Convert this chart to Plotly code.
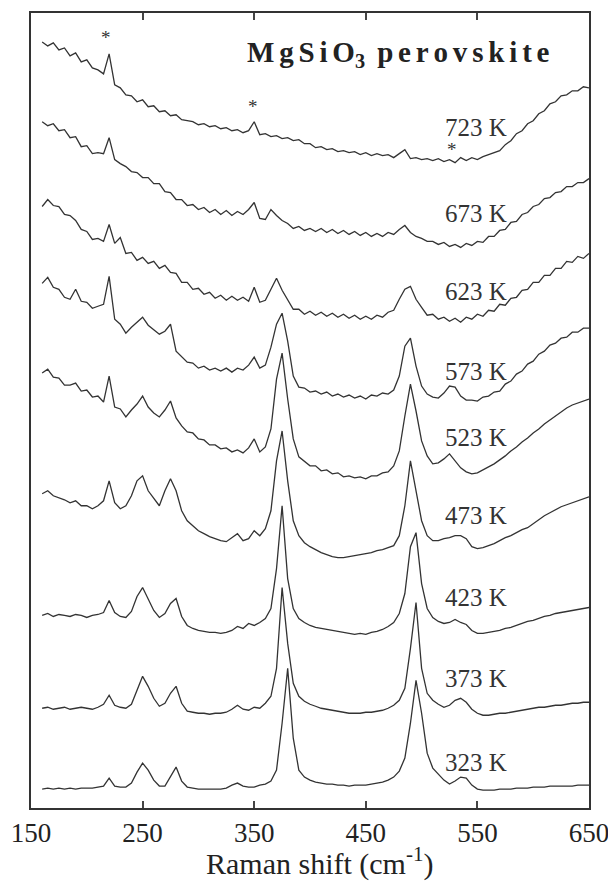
import plotly.graph_objects as go

# Raman shift grid (cm^-1)
wavenumber = list(range(160, 651, 5))

temperatures = ["323 K", "373 K", "423 K", "473 K", "523 K", "573 K", "623 K", "673 K", "723 K"]

# Offset intensities (arb. units), one list per temperature
I_323 = [19, 20, 19, 20, 19, 20, 19, 20, 20, 20, 21, 22, 30, 22, 21, 21, 25, 36, 45, 38,
         28, 22, 22, 32, 41, 27, 21, 20, 19, 19, 19, 19, 19, 20, 23, 25, 22, 21, 21, 23,
         24, 27, 38, 85, 140, 70, 38, 31, 28, 26, 25, 24, 24, 23, 23, 22, 23, 23, 23, 24,
         25, 26, 28, 31, 37, 50, 85, 128, 95, 55, 40, 34, 28, 24, 27, 31, 30, 23, 19, 18,
         18, 18, 19, 19, 19, 20, 20, 20, 21, 21, 21, 22, 22, 22, 22, 22, 23, 23, 23]
I_373 = [100, 101, 99, 100, 101, 99, 100, 101, 100, 99, 101, 104, 113, 103, 101, 100, 104, 118, 132, 122,
         110, 102, 105, 115, 122, 105, 97, 96, 95, 95, 94, 95, 95, 96, 99, 103, 99, 98, 101, 100,
         105, 112, 140, 221, 165, 125, 112, 107, 104, 102, 100, 99, 98, 97, 96, 95, 95, 95, 96, 96,
         97, 98, 100, 103, 108, 120, 160, 206, 140, 115, 108, 104, 101, 103, 108, 110, 106, 99, 95, 93,
         93, 94, 95, 95, 96, 97, 98, 99, 100, 101, 101, 102, 103, 103, 104, 105, 105, 106, 106]
I_423 = [193, 195, 192, 194, 193, 192, 194, 193, 191, 193, 194, 196, 208, 196, 192, 191, 197, 212, 221, 210,
         198, 191, 195, 205, 210, 192, 183, 180, 178, 177, 176, 176, 175, 176, 178, 182, 180, 185, 183, 186,
         190, 200, 240, 303, 230, 200, 190, 186, 183, 181, 180, 179, 178, 177, 176, 175, 174, 175, 174, 176,
         177, 179, 182, 186, 195, 215, 262, 276, 225, 200, 191, 187, 185, 186, 189, 186, 184, 178, 175, 175,
         176, 177, 178, 180, 181, 183, 185, 187, 188, 190, 192, 193, 195, 196, 197, 198, 199, 200, 201]
I_473 = [315, 318, 313, 311, 309, 306, 308, 303, 303, 300, 303, 308, 328, 306, 300, 303, 313, 328, 333, 318,
         310, 303, 318, 330, 318, 298, 288, 283, 278, 275, 272, 270, 268, 267, 271, 275, 268, 270, 278, 273,
         280, 298, 348, 378, 328, 288, 273, 266, 262, 259, 256, 254, 252, 251, 251, 252, 253, 254, 255, 256,
         258, 259, 261, 263, 273, 303, 348, 318, 288, 273, 268, 268, 270, 271, 273, 273, 270, 262, 260, 261,
         263, 265, 268, 271, 273, 276, 279, 281, 285, 289, 293, 296, 299, 302, 304, 306, 308, 310, 312]
I_523 = [436, 440, 432, 431, 424, 424, 426, 418, 419, 412, 413, 407, 433, 402, 400, 392, 399, 405, 413, 402,
         396, 392, 399, 408, 391, 383, 377, 376, 370, 369, 364, 364, 360, 361, 357, 359, 356, 361, 370, 357,
         362, 380, 430, 456, 410, 370, 352, 347, 343, 343, 338, 339, 335, 336, 332, 333, 331, 332, 330, 333,
         333, 336, 337, 343, 358, 393, 425, 398, 368, 353, 345, 346, 350, 355, 348, 341, 337, 335, 336, 339,
         342, 345, 349, 353, 358, 362, 367, 371, 376, 380, 385, 389, 393, 397, 401, 404, 406, 408, 410]
I_573 = [526, 532, 522, 520, 512, 510, 520, 508, 507, 501, 503, 505, 533, 490, 485, 476, 482, 487, 492, 484,
         479, 475, 478, 485, 458, 453, 447, 446, 441, 443, 439, 441, 438, 441, 437, 441, 439, 444, 452, 441,
         444, 462, 485, 496, 468, 433, 422, 421, 417, 418, 415, 417, 413, 415, 412, 414, 411, 413, 410, 414,
         413, 416, 415, 419, 433, 463, 471, 443, 423, 415, 412, 411, 416, 423, 422, 413, 409, 409, 408, 412,
         413, 417, 418, 425, 428, 435, 438, 445, 448, 455, 458, 464, 466, 471, 472, 477, 477, 481, 481]
I_623 = [603, 610, 604, 603, 595, 594, 589, 580, 578, 570, 571, 568, 585, 566, 572, 556, 557, 549, 552, 546,
         548, 541, 544, 537, 536, 527, 527, 520, 521, 515, 517, 511, 514, 509, 513, 509, 512, 508, 522, 507,
         509, 520, 531, 519, 509, 500, 500, 495, 498, 494, 497, 493, 496, 492, 495, 491, 494, 490, 493, 490,
         494, 492, 497, 499, 510, 520, 523, 510, 502, 494, 495, 490, 492, 488, 491, 487, 492, 490, 495, 493,
         499, 498, 505, 504, 511, 512, 519, 520, 527, 527, 534, 534, 541, 541, 548, 547, 553, 551, 556]
I_673 = [688, 684, 686, 679, 680, 672, 673, 663, 664, 656, 657, 656, 672, 650, 646, 643, 638, 637, 632, 632,
         626, 626, 618, 617, 610, 610, 604, 605, 600, 602, 597, 600, 595, 599, 594, 598, 595, 600, 607, 591,
         590, 600, 594, 589, 586, 581, 583, 579, 581, 578, 581, 577, 580, 576, 579, 575, 578, 574, 577, 573,
         576, 573, 577, 575, 580, 584, 577, 573, 571, 568, 568, 565, 567, 563, 565, 562, 566, 564, 568, 567,
         573, 573, 579, 580, 587, 588, 595, 597, 603, 605, 611, 612, 617, 618, 623, 623, 627, 627, 631]
I_723 = [768, 764, 767, 760, 762, 754, 757, 748, 750, 742, 740, 736, 756, 725, 722, 715, 714, 708, 710, 703,
         704, 698, 699, 694, 695, 690, 689, 688, 685, 686, 683, 684, 681, 682, 679, 680, 677, 679, 688, 675,
         676, 673, 674, 671, 672, 669, 670, 666, 666, 662, 663, 660, 661, 658, 659, 657, 658, 655, 657, 654,
         656, 654, 655, 652, 656, 660, 651, 652, 650, 651, 649, 651, 648, 650, 647, 652, 649, 652, 650, 653,
         655, 657, 659, 665, 669, 676, 679, 686, 689, 696, 699, 706, 708, 714, 715, 719, 719, 723, 722]

spectra = [I_323, I_373, I_423, I_473, I_523, I_573, I_623, I_673, I_723]

# label placement (layout) for the temperature tags
label_x = 549
label_y = [46, 130, 211, 293, 371, 438, 518, 596, 682]

# asterisks marking spurious lines (layout)
star_x = [217, 349, 527]
star_y = [772, 703, 660]

serif = "Liberation Serif, Times New Roman, serif"
ink = "#333333"

fig = go.Figure()
for ys in spectra:
    fig.add_trace(go.Scatter(x=wavenumber, y=ys, mode="lines",
                             line=dict(color=ink, width=1.3), showlegend=False,
                             hoverinfo="skip"))

annotations = []
for t, ly in zip(temperatures, label_y):
    annotations.append(dict(x=label_x, y=ly, xref="x", yref="y", text=t, showarrow=False,
                            font=dict(family=serif, size=25, color=ink),
                            xanchor="center", yanchor="middle"))
for sx, sy in zip(star_x, star_y):
    annotations.append(dict(x=sx, y=sy, xref="x", yref="y", text="*", showarrow=False,
                            font=dict(family=serif, size=19, color=ink),
                            xanchor="center", yanchor="middle"))

ts = "\u2006"
title_txt = ts.join("MgSi") + ts + "O<sub>3</sub>" + ts + " " + ts.join("perovskite")
annotations.append(dict(x=0.934, y=0.949, xref="paper", yref="paper",
                        text="<b>" + title_txt + "</b>", showarrow=False,
                        font=dict(family=serif, size=29, color="#222"),
                        xanchor="right", yanchor="middle"))
annotations.append(dict(x=0.517, y=-0.067, xref="paper", yref="paper",
                        text="Raman shift (cm<sup>-1</sup>)", showarrow=False,
                        font=dict(family=serif, size=30, color="#222"),
                        xanchor="center", yanchor="middle"))

# the page body keeps its default 8 px margin, so the figure is 8 px smaller
fig.update_layout(width=608, height=873, margin=dict(l=20, r=27, t=3, b=73),
                  plot_bgcolor="white", paper_bgcolor="white", showlegend=False,
                  annotations=annotations)
fig.update_xaxes(range=[150, 650], tickvals=[150, 250, 350, 450, 550, 650],
                 ticks="inside", ticklen=7, tickwidth=1.5, tickcolor="#444",
                 showline=True, linewidth=2, linecolor="#333", mirror="ticks",
                 showgrid=False, zeroline=False, ticklabeloverflow="allow",
                 tickfont=dict(family=serif, size=27, color="#222"))
fig.update_yaxes(range=[0, 797], showticklabels=False, ticks="",
                 showline=True, linewidth=2, linecolor="#333", mirror=True,
                 showgrid=False, zeroline=False)

fig.write_html("out.html")
